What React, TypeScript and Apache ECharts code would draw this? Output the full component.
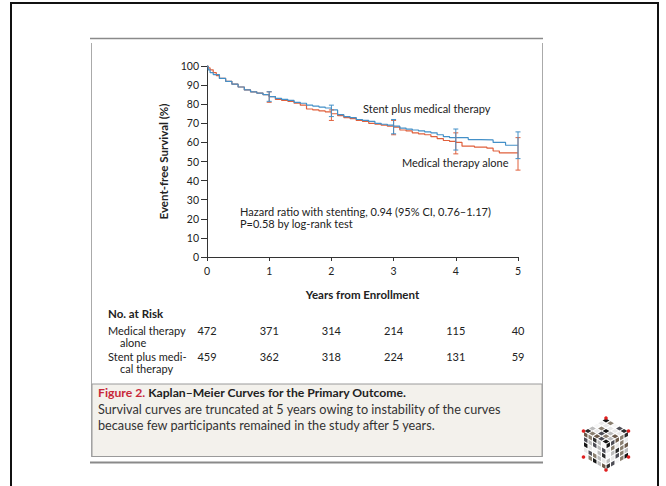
import React, { useEffect, useRef } from "react";
import * as echarts from "echarts";

// Kaplan–Meier curves: [years, survival %]
const medicalAlone: [number, number][] = [
  [0, 100], [0.02, 99], [0.05, 98], [0.1, 96.5], [0.15, 95], [0.2, 93.5], [0.3, 92], [0.4, 90.5],
  [0.5, 89], [0.6, 87.5], [0.7, 86.5], [0.8, 85.8], [0.9, 85], [1.0, 84], [1.1, 82.5], [1.2, 82],
  [1.3, 81.5], [1.4, 80.5], [1.5, 79.5], [1.6, 77.5], [1.7, 77], [1.8, 76.5], [1.9, 76], [2.0, 75],
  [2.1, 74], [2.2, 73], [2.3, 72.5], [2.4, 71.5], [2.5, 71], [2.6, 70], [2.7, 69.5], [2.8, 69],
  [2.9, 68.5], [3.0, 68], [3.1, 66.5], [3.2, 66], [3.3, 65], [3.4, 64.5], [3.5, 64], [3.6, 63],
  [3.7, 62], [3.8, 61], [3.9, 60.5], [4.0, 60], [4.1, 58], [4.3, 57.5], [4.5, 57], [4.6, 55.5],
  [4.7, 54.5], [5.0, 54.5],
];
const stentPlus: [number, number][] = [
  [0, 100], [0.02, 98], [0.05, 96.5], [0.1, 95.5], [0.2, 93.5], [0.3, 92], [0.4, 90.5], [0.5, 89],
  [0.6, 87.5], [0.7, 86.5], [0.8, 85.8], [0.9, 85], [1.0, 84], [1.1, 83], [1.2, 82.5], [1.3, 82],
  [1.4, 81], [1.5, 80.5], [1.6, 79.5], [1.7, 79], [1.8, 78.5], [1.9, 78], [2.0, 77], [2.1, 74.5],
  [2.2, 73.5], [2.3, 73], [2.4, 72], [2.5, 71.5], [2.6, 71], [2.7, 70], [2.8, 69.5], [2.9, 69],
  [3.0, 68.5], [3.1, 67.5], [3.2, 67], [3.3, 66.5], [3.4, 66], [3.5, 65.5], [3.6, 65], [3.7, 64],
  [3.8, 63], [3.9, 62.5], [4.0, 62.5], [4.2, 61.5], [4.4, 61.3], [4.6, 60], [4.8, 58.5], [5.0, 58.5],
];
// 95% CI bars: [year, low, high]
const medicalCI: [number, number, number][] = [
  [1, 81, 86.5], [2, 71.5, 77], [3, 64, 71.5], [4, 54, 65], [5, 45.5, 62.5],
];
const stentCI: [number, number, number][] = [
  [1, 81.5, 86.5], [2, 73.5, 79.5], [3, 64.5, 72], [4, 56, 67], [5, 51.5, 65.5],
];
// Numbers at risk
const riskYears = [0, 1, 2, 3, 4, 5];
const riskMedical = [472, 371, 314, 214, 115, 40];
const riskStent = [459, 362, 318, 224, 131, 59];

const RED = "#e0603c";
const BLUE = "#4390c8";
const FONT = "Lato";

function ciSeries(name: string, data: [number, number, number][], color: string) {
  return {
    type: "custom",
    name,
    data,
    encode: { x: 0, y: [1, 2] },
    z: 5,
    renderItem: (_p: any, api: any) => {
      const x = api.value(0);
      const a = api.coord([x, api.value(1)]);
      const b = api.coord([x, api.value(2)]);
      const cw = 2.5;
      const st = { stroke: color, lineWidth: 1 };
      return {
        type: "group",
        children: [
          { type: "line", shape: { x1: a[0], y1: a[1], x2: b[0], y2: b[1] }, style: st },
          { type: "line", shape: { x1: a[0] - cw, y1: a[1], x2: a[0] + cw, y2: a[1] }, style: st },
          { type: "line", shape: { x1: b[0] - cw, y1: b[1], x2: b[0] + cw, y2: b[1] }, style: st },
        ],
      };
    },
  };
}

function cubeGraphics(cx: number, cy: number, s: number) {
  const a = s * Math.cos(Math.PI / 6);
  const n = 5;
  const palette = ["#2b2b2b", "#e9e9e9", "#6b5a4a", "#bdbdbd", "#151515", "#8a7f70", "#f7f7f7", "#4d4d55"];
  const faces = [
    { o: [cx - a, cy - s / 2], u: [a, -s / 2], v: [a, s / 2] },
    { o: [cx - a, cy - s / 2], u: [a, s / 2], v: [0, s] },
    { o: [cx, cy], u: [a, -s / 2], v: [0, s] },
  ];
  const out: any[] = [];
  faces.forEach((f, fi) => {
    for (let i = 0; i < n; i++) {
      for (let j = 0; j < n; j++) {
        const g = 0.12;
        const p = (ii: number, jj: number) => [
          f.o[0] + (f.u[0] * ii + f.v[0] * jj) / n,
          f.o[1] + (f.u[1] * ii + f.v[1] * jj) / n,
        ];
        const pts = [p(i + g, j + g), p(i + 1 - g, j + g), p(i + 1 - g, j + 1 - g), p(i + g, j + 1 - g)];
        const col = palette[(i * 3 + j * 5 + fi * 2 + i * j) % palette.length];
        out.push({ type: "polygon", shape: { points: pts }, style: { fill: col }, silent: true });
      }
    }
  });
  const corners = [[cx, cy - s], [cx + a, cy - s / 2], [cx - a, cy - s / 2], [cx - a, cy + s / 2], [cx + a, cy + s / 2], [cx, cy + s]];
  corners.forEach((c) => out.push({ type: "circle", shape: { cx: c[0], cy: c[1], r: 1.8 }, style: { fill: "#e02020" }, silent: true }));
  return out;
}

export default function App() {
  const ref = useRef<HTMLDivElement>(null);
  useEffect(() => {
    if (!ref.current) return;
    const chart = echarts.init(ref.current, null, { renderer: "svg" });
    const axisText = { color: "#222", fontSize: 10.5, fontFamily: FONT };
    chart.setOption({
      animation: false,
      backgroundColor: "#ffffff",
      textStyle: { fontFamily: FONT },
      grid: { left: 207, right: 148, top: 66, bottom: 229 },
      xAxis: {
        type: "value", min: 0, max: 5, interval: 1,
        name: "Years from Enrollment", nameLocation: "middle", nameGap: 31,
        nameTextStyle: { color: "#222", fontSize: 11.5, fontWeight: "bold", fontFamily: FONT },
        axisLine: { lineStyle: { color: "#333", width: 1 } },
        axisTick: { show: true, length: 4, lineStyle: { color: "#333" } },
        axisLabel: { ...axisText, margin: 8 },
        splitLine: { show: false },
      },
      yAxis: {
        type: "value", min: 0, max: 100, interval: 10,
        name: "Event-free Survival (%)", nameLocation: "middle", nameGap: 38,
        nameTextStyle: { color: "#222", fontSize: 11.5, fontWeight: "bold", fontFamily: FONT },
        axisLine: { show: true, lineStyle: { color: "#333", width: 1 } },
        axisTick: { show: true, length: 6, lineStyle: { color: "#333" } },
        axisLabel: { ...axisText, margin: 8 },
        splitLine: { show: false },
      },
      series: [
        { type: "line", name: "Medical therapy alone", data: medicalAlone, step: "end", showSymbol: false, symbol: "none", lineStyle: { color: RED, width: 1.2 }, z: 3 },
        { type: "line", name: "Stent plus medical therapy", data: stentPlus, step: "end", showSymbol: false, symbol: "none", lineStyle: { color: BLUE, width: 1.2 }, z: 4 },
        ciSeries("Medical CI", medicalCI, RED),
        ciSeries("Stent CI", stentCI, BLUE),
      ],
    });

    const xs = riskYears.map((t) => chart.convertToPixel({ xAxisIndex: 0 }, t) as number);
    const txt = (x: number, y: number, text: string, extra: any = {}) => ({
      type: "text", x, y, silent: true,
      style: { text, fill: "#222", fontSize: 11, fontFamily: FONT, verticalAlign: "middle", ...extra },
    });
    const graphic: any[] = [
      // outer slide frame
      { type: "rect", shape: { x: 11, y: 3, width: 647, height: 500 }, style: { fill: "none", stroke: "#111", lineWidth: 2 }, silent: true },
      // figure panel rules
      { type: "line", shape: { x1: 90, y1: 38.5, x2: 543, y2: 38.5 }, style: { stroke: "#8a8a8a", lineWidth: 1.5 }, silent: true },
      { type: "line", shape: { x1: 91.5, y1: 43, x2: 91.5, y2: 457 }, style: { stroke: "#aaaaaa", lineWidth: 1 }, silent: true },
      { type: "line", shape: { x1: 542.5, y1: 43, x2: 542.5, y2: 457 }, style: { stroke: "#aaaaaa", lineWidth: 1 }, silent: true },
      { type: "rect", shape: { x: 92, y: 384, width: 450, height: 72.5 }, style: { fill: "#f3f1ec", stroke: "#9a9a9a", lineWidth: 1 }, silent: true },
      { type: "line", shape: { x1: 90, y1: 462.5, x2: 543, y2: 462.5 }, style: { stroke: "#8a8a8a", lineWidth: 2 }, silent: true },
      // annotations
      txt(363, 108, "Stent plus medical therapy"),
      txt(402, 162, "Medical therapy alone"),
      txt(240, 211, "Hazard ratio with stenting, 0.94 (95% CI, 0.76\u20131.17)"),
      txt(240, 223, "P=0.58 by log-rank test"),
      // risk table
      txt(108, 313, "No. at Risk", { fontWeight: "bold", fontSize: 11.5 }),
      txt(108, 330, "Medical therapy"),
      txt(120, 342, "alone"),
      txt(108, 356, "Stent plus medi-"),
      txt(120, 368, "cal therapy"),
      ...riskMedical.map((v, i) => txt(xs[i], 330, String(v), { align: "center" })),
      ...riskStent.map((v, i) => txt(xs[i], 356, String(v), { align: "center" })),
      // caption
      {
        type: "text", x: 98, y: 392, silent: true,
        style: {
          text: "{r|Figure 2.} {b|Kaplan\u2013Meier Curves for the Primary Outcome.}",
          verticalAlign: "middle", fontFamily: FONT,
          rich: {
            r: { fill: "#c8283a", fontSize: 12.2, fontWeight: "bold", fontFamily: FONT },
            b: { fill: "#222", fontSize: 12.2, fontWeight: "bold", fontFamily: FONT },
          },
        },
      },
      txt(98, 409, "Survival curves are truncated at 5 years owing to instability of the curves", { fontSize: 12.7, fill: "#333" }),
      txt(98, 425, "because few participants remained in the study after 5 years.", { fontSize: 12.7, fill: "#333" }),
      // logo cube
      ...cubeGraphics(606, 444, 26),
    ];
    chart.setOption({ graphic });
    return () => chart.dispose();
  }, []);
  return <div ref={ref} style={{ position: "fixed", left: 0, top: 0, width: 666, height: 486 }} />;
}
